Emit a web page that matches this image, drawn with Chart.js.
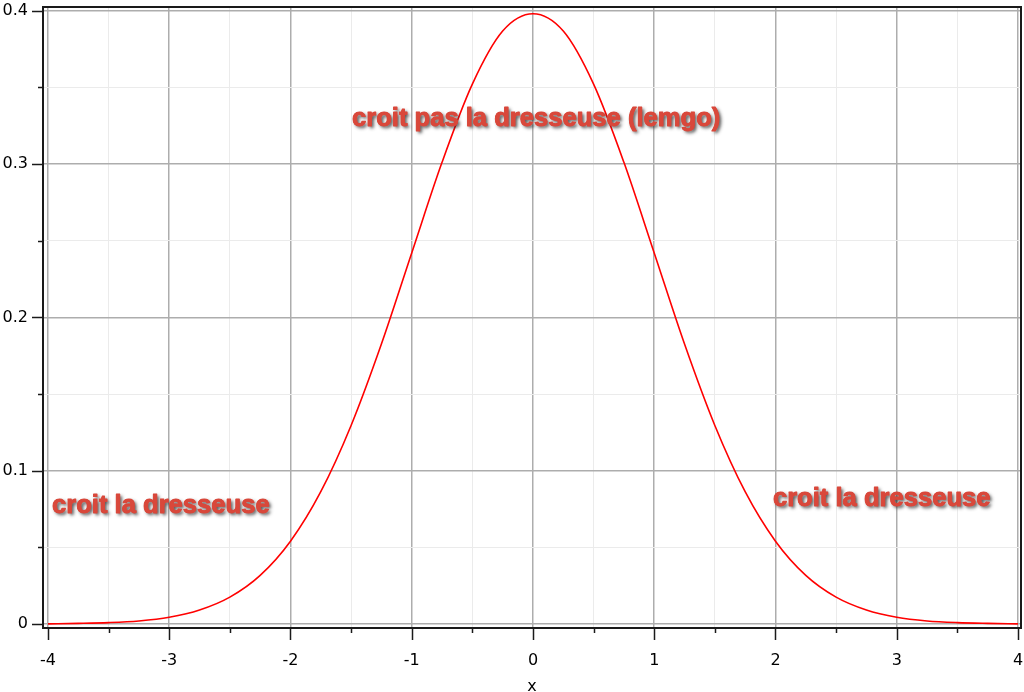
<!DOCTYPE html>
<html>
<head>
<meta charset="utf-8">
<script src="https://cdn.jsdelivr.net/npm/chart.js@4/dist/chart.umd.min.js"></script>
<style>
  html, body { margin: 0; padding: 0; background: #fff; }
  #wrap { width: 1024px; height: 692px; }
</style>
</head>
<body>
<div id="wrap"><canvas id="graph"></canvas></div>
<script>
// values
let xValues = [-4, -3.75, -3.5, -3.25, -3, -2.75, -2.5, -2.25, -2, -1.75, -1.5, -1.25, -1, -0.75, -0.5, -0.25,
  0, 0.25, 0.5, 0.75, 1, 1.25, 1.5, 1.75, 2, 2.25, 2.5, 2.75, 3, 3.25, 3.5, 3.75, 4]
let yValues = [0.0001, 0.0004, 0.0009, 0.002, 0.0044, 0.0091, 0.0175, 0.0317, 0.054, 0.0863, 0.1295, 0.1826, 0.242, 0.3011, 0.3521, 0.3867,
  0.398, 0.3867, 0.3521, 0.3011, 0.242, 0.1826, 0.1295, 0.0863, 0.054, 0.0317, 0.0175, 0.0091, 0.0044, 0.002, 0.0009, 0.0004, 0.0001]

let xTicks = [-4, -3.5, -3, -2.5, -2, -1.5, -1, -0.5, 0, 0.5, 1, 1.5, 2, 2.5, 3, 3.5, 4]
let xMajor = [-4, -3, -2, -1, 0, 1, 2, 3, 4]
let yTicks = [0, 0.05, 0.1, 0.15, 0.2, 0.25, 0.3, 0.35, 0.4]
let yMajor = [0, 0.1, 0.2, 0.3, 0.4]

let noteTexts = ['croit la dresseuse', 'croit pas la dresseuse (lemgo)', 'croit la dresseuse']

const isMajor = (list, v) => list.some(m => Math.abs(m - v) < 1e-9)

// frame + minor/major tick marks + text notes
const frameAndNotes = {
  id: 'frameAndNotes',
  afterDraw(chart) {
    let c = chart.ctx
    let a = chart.chartArea
    let sx = chart.scales.x
    let sy = chart.scales.y
    c.save()
    c.strokeStyle = '#1a1a1a'
    c.lineWidth = 1.5
    xTicks.forEach(v => {
      let px = Math.round(sx.getPixelForValue(v)) + 0.5
      let len = isMajor(xMajor, v) ? 12 : 5
      c.beginPath()
      c.moveTo(px, a.bottom)
      c.lineTo(px, a.bottom + len)
      c.stroke()
    })
    yTicks.forEach(v => {
      let py = Math.round(sy.getPixelForValue(v)) + 0.5
      let len = isMajor(yMajor, v) ? 11 : 5
      c.beginPath()
      c.moveTo(a.left, py)
      c.lineTo(a.left - len, py)
      c.stroke()
    })
    c.lineWidth = 2
    c.strokeRect(a.left, a.top, a.right - a.left, a.bottom - a.top)

    let spots = [
      [sx.getPixelForValue(-3.967), sy.getPixelForValue(0.0723)],
      [sx.getPixelForValue(-1.493), sy.getPixelForValue(0.3245)],
      [sx.getPixelForValue(1.979), sy.getPixelForValue(0.0768)]
    ]
    c.font = 'bold 25.6px "Liberation Sans", Arial, sans-serif'
    c.textAlign = 'left'
    c.textBaseline = 'alphabetic'
    c.fillStyle = '#d9483b'
    c.strokeStyle = '#d9483b'
    c.lineWidth = 0.9
    c.lineJoin = 'round'
    // shadow pass first, then clean text on top
    c.shadowColor = 'rgba(35,35,35,0.85)'
    c.shadowOffsetX = 2
    c.shadowOffsetY = 2
    c.shadowBlur = 3.5
    noteTexts.forEach((t, i) => c.fillText(t, spots[i][0], spots[i][1]))
    c.shadowColor = 'rgba(0,0,0,0)'
    noteTexts.forEach((t, i) => {
      c.fillText(t, spots[i][0], spots[i][1])
      c.strokeText(t, spots[i][0], spots[i][1])
    })
    c.restore()
  }
}

let points = xValues.map((x, i) => ({ x: x, y: yValues[i] }))

new Chart(document.getElementById('graph'), {
  type: 'line',
  data: {
    datasets: [{
      data: points,
      borderColor: '#ff0000',
      borderWidth: 1.6,
      pointRadius: 0,
      cubicInterpolationMode: 'monotone',
      fill: false
    }]
  },
  options: {
    responsive: true,
    maintainAspectRatio: false,
    animation: false,
    layout: { padding: { top: 7, right: 3, left: 0, bottom: 0 } },
    plugins: {
      legend: { display: false },
      tooltip: { enabled: false }
    },
    scales: {
      x: {
        type: 'linear',
        min: -4.041,
        max: 4.025,
        afterBuildTicks: scale => { scale.ticks = xTicks.map(v => ({ value: v })) },
        afterFit: scale => {
          scale.height = 64
          scale.paddingLeft = 0
          scale.paddingRight = 0
        },
        border: { display: false },
        grid: {
          drawTicks: false,
          color: ctx => isMajor(xMajor, ctx.tick.value) ? '#adadad' : '#ebebeb',
          lineWidth: ctx => isMajor(xMajor, ctx.tick.value) ? 1.5 : 1
        },
        ticks: {
          autoSkip: false,
          maxRotation: 0,
          padding: 23,
          color: '#000',
          font: { family: 'DejaVu Sans', size: 16 },
          callback: v => isMajor(xMajor, v) ? String(v) : ''
        },
        title: {
          display: true,
          text: 'x',
          color: '#000',
          padding: { top: 0, bottom: -4 },
          font: { family: 'DejaVu Sans', size: 16 }
        }
      },
      y: {
        min: -0.0026,
        max: 0.4024,
        afterBuildTicks: scale => { scale.ticks = yTicks.map(v => ({ value: v })) },
        afterFit: scale => {
          scale.width = 43
          scale.paddingTop = 0
          scale.paddingBottom = 0
        },
        border: { display: false },
        grid: {
          drawTicks: false,
          color: ctx => isMajor(yMajor, ctx.tick.value) ? '#adadad' : '#ebebeb',
          lineWidth: ctx => isMajor(yMajor, ctx.tick.value) ? 1.5 : 1
        },
        ticks: {
          autoSkip: false,
          padding: 15,
          color: '#000',
          font: { family: 'DejaVu Sans', size: 16 },
          callback: v => isMajor(yMajor, v) ? String(v) : ''
        }
      }
    }
  },
  plugins: [frameAndNotes]
})
</script>
</body>
</html>
